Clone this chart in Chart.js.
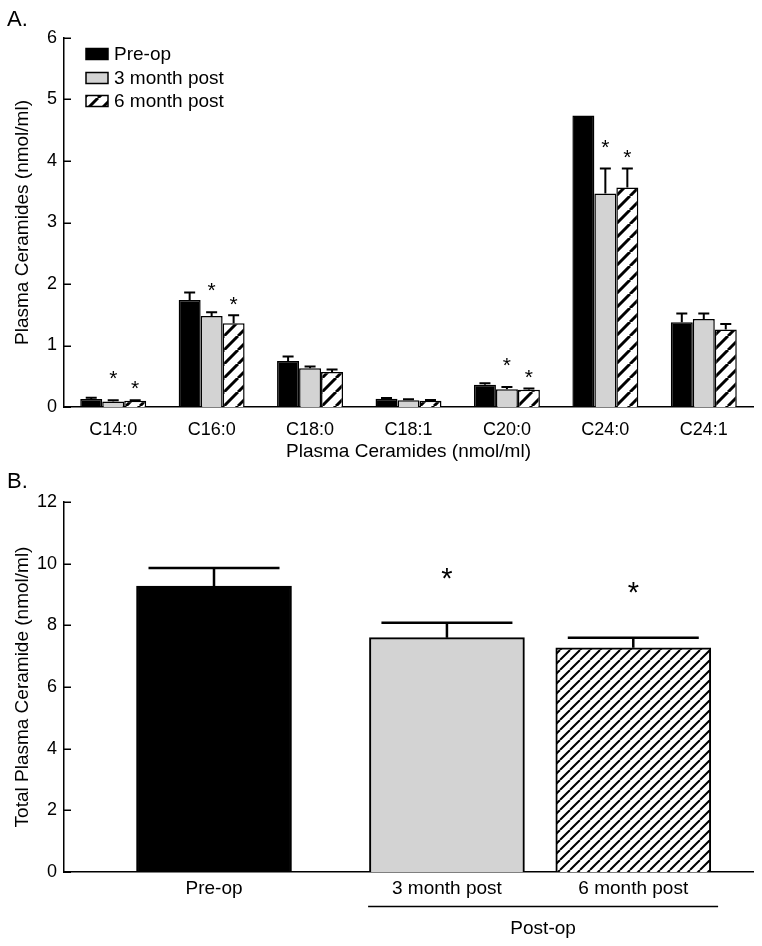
<!DOCTYPE html>
<html><head><meta charset="utf-8">
<script src="https://cdn.jsdelivr.net/npm/chart.js@4.4.1/dist/chart.umd.min.js"></script>
<style>
html,body{margin:0;padding:0;background:#fff;}
#wrap{position:relative;width:762px;height:946px;background:#fff;}
canvas{display:block;position:absolute;left:0;}
#c1{top:0}
#c2{top:470px}
</style></head><body>
<div id="wrap"><canvas id="c1" width="762" height="470"></canvas><canvas id="c2" width="762" height="476"></canvas></div>
<script>
// ---------- Panel A data ----------
const categories = ['C14:0','C16:0','C18:0','C18:1','C20:0','C24:0','C24:1'];
const seriesNames = ['Pre-op','3 month post','6 month post'];
const preOp    = [0.13, 1.74, 0.75, 0.135, 0.36, 4.74, 1.38];
const preOpErr = [0.02, 0.12, 0.07, 0.01, 0.025, 0, 0.14];
const post3    = [0.09, 1.48, 0.63, 0.11, 0.29, 3.47, 1.43];
const post3Err = [0.02, 0.06, 0.03, 0.015, 0.035, 0.41, 0.09];
const post6    = [0.10, 1.36, 0.57, 0.10, 0.28, 3.57, 1.26];
const post6Err = [0.01, 0.13, 0.04, 0.015, 0.02, 0.31, 0.09];
const post3Sig = [true, true, false, false, true, true, false];
const post6Sig = [true, true, false, false, true, true, false];
const yTicksA  = [0,1,2,3,4,5,6];

// ---------- Panel B data ----------
const totalLabels = ['Pre-op','3 month post','6 month post'];
const totalValues = [9.27, 7.60, 7.27];
const totalErr    = [0.59, 0.48, 0.33];
const totalSig    = [false, true, true];
const yTicksB     = [0,2,4,6,8,10,12];

const FF = '"Liberation Sans", Arial, Helvetica, sans-serif';
const GREY = '#d3d3d3';

function hatch(p, lw){
  const c = document.createElement('canvas'); c.width = p; c.height = p;
  const g = c.getContext('2d');
  g.fillStyle = '#fff'; g.fillRect(0,0,p,p);
  g.strokeStyle = '#000'; g.lineWidth = lw;
  g.beginPath();
  [-p,0,p].forEach(k => { g.moveTo(k, p); g.lineTo(k+p, 0); });
  g.stroke();
  return g.canvas;
}

function inwardTicks(chart, len){
  const ctx = chart.ctx, y = chart.scales.y;
  ctx.save(); ctx.strokeStyle = '#000'; ctx.lineWidth = 1.5;
  y.ticks.forEach((t,i) => {
    const py = Math.round(y.getPixelForTick(i)) + 0.25;
    ctx.beginPath(); ctx.moveTo(y.right, py); ctx.lineTo(y.right + len, py); ctx.stroke();
  });
  ctx.restore();
}

function star(ctx, x, cy, size){
  ctx.font = size + 'px ' + FF;
  ctx.textAlign = 'center'; ctx.textBaseline = 'alphabetic'; ctx.fillStyle = '#000';
  ctx.fillText('*', x, cy + 0.58*size);
}

// ---------- Panel A ----------
const ctx1 = document.getElementById('c1').getContext('2d');
const patA = ctx1.createPattern(hatch(14, 3), 'repeat');

const annotA = {
  id: 'annotA',
  afterDatasetsDraw(chart){
    const ctx = chart.ctx, y = chart.scales.y;
    const vals = [preOp, post3, post6], errs = [preOpErr, post3Err, post6Err];
    const sigs = [null, post3Sig, post6Sig], starOff = [0, 27, 17];
    ctx.save(); ctx.strokeStyle = '#000'; ctx.lineWidth = 2;
    chart.data.datasets.forEach((ds, di) => {
      chart.getDatasetMeta(di).data.forEach((el, i) => {
        const top = y.getPixelForValue(vals[di][i] + errs[di][i]);
        if (errs[di][i] > 0) {
          ctx.beginPath();
          ctx.moveTo(el.x, el.y); ctx.lineTo(el.x, top);
          ctx.moveTo(el.x - 5.5, top); ctx.lineTo(el.x + 5.5, top);
          ctx.stroke();
        }
        if (sigs[di] && sigs[di][i]) star(ctx, el.x, top - starOff[di], 21);
      });
    });
    ctx.restore();
  },
  afterDraw(chart){
    const ctx = chart.ctx;
    inwardTicks(chart, 7);
    // legend
    const fills = chart.data.datasets.map(d => d.backgroundColor);
    const rowsY = [54, 78, 101];
    ctx.save();
    seriesNames.forEach((name, i) => {
      ctx.fillStyle = fills[i];
      ctx.fillRect(86, rowsY[i]-5.5, 22, 11);
      ctx.strokeStyle = '#000'; ctx.lineWidth = 1.5;
      ctx.strokeRect(86, rowsY[i]-5.5, 22, 11);
      ctx.fillStyle = '#000'; ctx.font = '19px ' + FF;
      ctx.textAlign = 'left'; ctx.textBaseline = 'middle';
      ctx.fillText(name, 114, rowsY[i] + 1);
    });
    ctx.font = '22px ' + FF; ctx.textBaseline = 'alphabetic';
    ctx.fillText('A.', 7, 26);
    ctx.restore();
  }
};

new Chart(ctx1, {
  type: 'bar',
  data: {
    labels: categories,
    datasets: [
      {label: seriesNames[0], data: preOp, backgroundColor: '#000', borderColor: '#000', borderWidth: 1.5},
      {label: seriesNames[1], data: post3, backgroundColor: GREY, borderColor: '#000', borderWidth: 1.5},
      {label: seriesNames[2], data: post6, backgroundColor: patA, borderColor: '#000', borderWidth: 1.5}
    ]
  },
  options: {
    responsive: false, animation: false, devicePixelRatio: 1,
    categoryPercentage: 0.67, barPercentage: 1.0,
    layout: {padding: {top: 38, right: 9, left: 0, bottom: 0}},
    plugins: {legend: {display: false}, tooltip: {enabled: false}},
    scales: {
      x: {
        grid: {display: false, drawTicks: false},
        border: {display: true, color: '#000', width: 1.5},
        ticks: {color: '#000', font: {family: FF, size: 18}, padding: 12, maxRotation: 0, autoSkip: false},
        title: {display: true, text: 'Plasma Ceramides (nmol/ml)', color: '#000', font: {family: FF, size: 19}, padding: {top: 0, bottom: 7}},
        afterFit(s){ s.height = 63; }
      },
      y: {
        min: 0, max: 6,
        afterBuildTicks(s){ s.ticks = yTicksA.map(v => ({value: v})); },
        grid: {display: false, drawTicks: false},
        border: {display: true, color: '#000', width: 1.5},
        ticks: {color: '#000', font: {family: FF, size: 18}, padding: 7},
        title: {display: true, text: 'Plasma Ceramides (nmol/ml)', color: '#000', font: {family: FF, size: 19}, padding: {top: 11, bottom: 0}},
        afterFit(s){ s.width = 64; }
      }
    }
  },
  plugins: [annotA]
});

// ---------- Panel B ----------
const ctx2 = document.getElementById('c2').getContext('2d');
const patB = ctx2.createPattern(hatch(10, 2), 'repeat');
const slotPos = [3, 8, 12];   // nominal slots on the x axis (Pre-op | gap | Post-op pair)

const annotB = {
  id: 'annotB',
  afterDatasetsDraw(chart){
    const ctx = chart.ctx, y = chart.scales.y;
    const meta = chart.getDatasetMeta(0);
    ctx.save(); ctx.strokeStyle = '#000'; ctx.lineWidth = 2.5;
    meta.data.forEach((el, i) => {
      const top = y.getPixelForValue(totalValues[i] + totalErr[i]);
      ctx.beginPath();
      ctx.moveTo(el.x, el.y); ctx.lineTo(el.x, top);
      ctx.moveTo(el.x - 65.5, top); ctx.lineTo(el.x + 65.5, top);
      ctx.stroke();
      if (totalSig[i]) star(ctx, el.x, top - 52, 29);
    });
    ctx.restore();
  },
  afterDraw(chart){
    const ctx = chart.ctx;
    inwardTicks(chart, 7);
    const meta = chart.getDatasetMeta(0);
    const a = meta.data[1], b = meta.data[2];
    const mid = (a.x + b.x) / 2;
    ctx.save();
    ctx.strokeStyle = '#000'; ctx.lineWidth = 1.5;
    ctx.beginPath(); ctx.moveTo(mid - 172, 436.5); ctx.lineTo(mid + 178, 436.5); ctx.stroke();
    ctx.fillStyle = '#000'; ctx.font = '19px ' + FF;
    ctx.textAlign = 'center'; ctx.textBaseline = 'middle';
    ctx.fillText('Post-op', mid + 3, 459);
    ctx.textAlign = 'left'; ctx.textBaseline = 'alphabetic'; ctx.font = '22px ' + FF;
    ctx.fillText('B.', 7, 18);
    ctx.restore();
  }
};

new Chart(ctx2, {
  type: 'bar',
  data: {
    datasets: [{
      data: totalValues.map((v, i) => ({x: slotPos[i], y: v})),
      backgroundColor: ['#000', GREY, patB],
      borderColor: '#000', borderWidth: 2, barThickness: 155
    }]
  },
  options: {
    responsive: false, animation: false, devicePixelRatio: 1,
    layout: {padding: {top: 32, right: 9, left: 0, bottom: 0}},
    plugins: {legend: {display: false}, tooltip: {enabled: false}},
    scales: {
      x: {
        type: 'linear', min: -0.22, max: 14.57, offset: false,
        afterBuildTicks(s){ s.ticks = slotPos.map(v => ({value: v})); },
        grid: {display: false, drawTicks: false, offset: false},
        border: {display: true, color: '#000', width: 1.5},
        ticks: {color: '#000', font: {family: FF, size: 19}, padding: 5, maxRotation: 0, autoSkip: false,
                callback: (v, i) => totalLabels[i]},
        afterFit(s){ s.height = 74; }
      },
      y: {
        min: 0, max: 12,
        afterBuildTicks(s){ s.ticks = yTicksB.map(v => ({value: v})); },
        grid: {display: false, drawTicks: false},
        border: {display: true, color: '#000', width: 1.5},
        ticks: {color: '#000', font: {family: FF, size: 18}, padding: 7},
        title: {display: true, text: 'Total Plasma Ceramide (nmol/ml)', color: '#000', font: {family: FF, size: 19}, padding: {top: 11, bottom: 0}},
        afterFit(s){ s.width = 64; }
      }
    }
  },
  plugins: [annotB]
});
</script>
</body></html>
